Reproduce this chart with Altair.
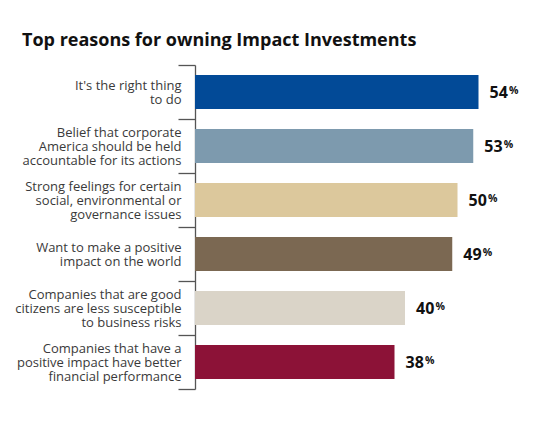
import altair as alt
import pandas as pd

categories = [
    "It's the right thing|to do",
    "Belief that corporate|America should be held|accountable for its actions",
    "Strong feelings for certain|social, environmental or|governance issues",
    "Want to make a positive|impact on the world",
    "Companies that are good|citizens are less susceptible|to business risks",
    "Companies that have a|positive impact have better|financial performance",
]
values = [54, 53, 50, 49, 40, 38]
colors = ["#024A97", "#7D9AAE", "#DCC89C", "#7B6852", "#DAD4C8", "#8C1237"]

df = pd.DataFrame({"reason": categories, "pct": values, "color": colors})
df["num"] = df["pct"].astype(str)

FONT = "Open Sans"
LH = 14

y = alt.Y(
    "reason:N",
    sort=categories,
    title=None,
    scale=alt.Scale(paddingInner=0, paddingOuter=0),
    axis=alt.Axis(
        labelExpr="split(datum.label, '|')",
        labelLineHeight=LH,
        labelFont=FONT,
        labelFontSize=13,
        labelColor="#3a3a3a",
        labelPadding=-3,
        labelLimit=300,
        labelOffset={
            "condition": {"test": "length(split(datum.label, '|')) >= 3", "value": -LH},
            "value": -LH / 2,
        },
        tickSize=17,
        tickBand="extent",
        tickColor="#555555",
        domainColor="#555555",
        tickWidth=1.3,
        domainWidth=1.3,
    ),
)
x = alt.X("pct:Q", scale=alt.Scale(domain=[0, 64]), axis=None)

base = alt.Chart(df)

bars = base.mark_bar(height=alt.RelativeBandSize(0.63)).encode(
    x=x, y=y, color=alt.Color("color:N", scale=None)
)

nums = base.mark_text(
    align="left", baseline="alphabetic", dx=11, dy=5.5,
    font=FONT, fontSize=16, fontWeight="bold", color="#111111",
).encode(x=x, y=y, text="num:N")

pcts = base.mark_text(
    align="left", baseline="alphabetic", dx=30.5, dy=2,
    font=FONT, fontSize=10.5, fontWeight="bold", color="#111111",
).encode(x=x, y=y, text=alt.value("%"))

chart = (
    alt.layer(bars, nums, pcts)
    .properties(
        width=336,
        height=324,
        autosize=alt.AutoSizeParams(type="none"),
        padding={"left": 187, "top": 57, "right": 5, "bottom": 29},
        title=alt.TitleParams(
            "Top reasons for owning Impact Investments",
            anchor="start",
            frame="group",
            dx=-173,
            dy=24,
            offset=19,
            baseline="alphabetic",
            font=FONT,
            fontSize=18,
            fontWeight="bold",
            color="#111111",
        ),
    )
    .configure_view(stroke=None)
)

chart.save("out.html", embed_options={"renderer": "svg", "actions": False})
